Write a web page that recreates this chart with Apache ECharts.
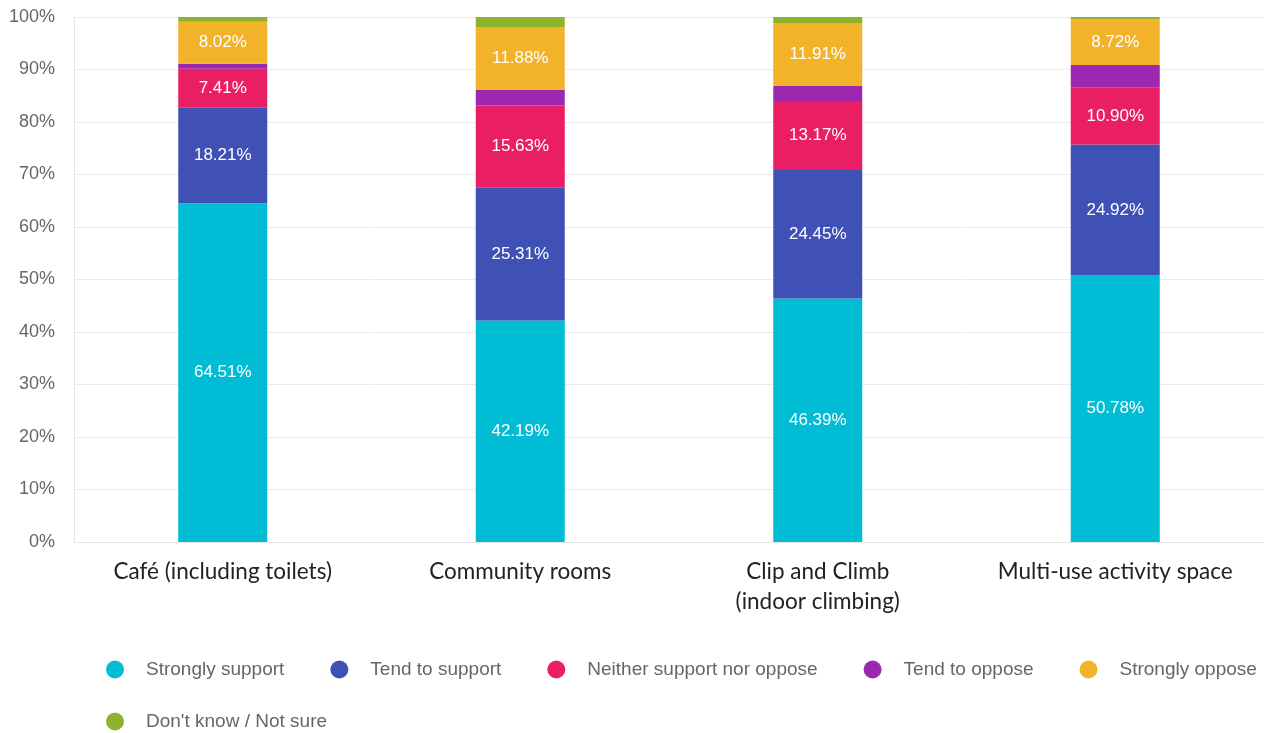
<!DOCTYPE html>
<html>
<head>
<meta charset="utf-8">
<script src="https://cdn.jsdelivr.net/npm/echarts@6/dist/echarts.min.js"></script>
<style>
  html, body { margin: 0; padding: 0; background: #fff; }
  #chart { width: 1277px; height: 733px; }
</style>
</head>
<body>
<div id="chart"></div>
<script>
var categories = ['Café (including toilets)', 'Community rooms', 'Clip and Climb\n(indoor climbing)', 'Multi-use activity space'];
var seriesNames = ['Strongly support', 'Tend to support', 'Neither support nor oppose', 'Tend to oppose', 'Strongly oppose', "Don't know / Not sure"];
var stronglySupport = [64.51, 42.19, 46.39, 50.78];
var tendToSupport = [18.21, 25.31, 24.45, 24.92];
var neither = [7.41, 15.63, 13.17, 10.90];
var tendToOppose = [0.95, 2.97, 2.85, 4.25];
var stronglyOppose = [8.02, 11.88, 11.91, 8.72];
var dontKnow = [0.90, 2.02, 1.23, 0.42];
var yTicks = [0, 10, 20, 30, 40, 50, 60, 70, 80, 90, 100];

var colors = ['#00bcd4', '#3f51b5', '#e91e63', '#9c27b0', '#f2b22a', '#8db32c'];
var allData = [stronglySupport, tendToSupport, neither, tendToOppose, stronglyOppose, dontKnow];
var showLabel = [true, true, true, false, true, false];

var myChart = echarts.init(document.getElementById('chart'));

var series = [];
for (var i = 0; i < seriesNames.length; i++) {
    series.push({
        name: seriesNames[i],
        type: 'bar',
        stack: 'total',
        barWidth: 89,
        data: allData[i],
        itemStyle: { color: colors[i] },
        label: {
            show: showLabel[i],
            position: 'inside',
            color: '#fff',
            fontFamily: 'Liberation Sans, Arial, sans-serif',
            fontSize: 17,
            formatter: function (p) { return p.value.toFixed(2) + '%'; }
        }
    });
}

var legendText = {
    color: '#666',
    fontFamily: 'Liberation Sans, Arial, sans-serif',
    fontSize: 19,
    padding: [0, 0, 0, 17]
};

var option = {
    animation: false,
    grid: { left: 74, right: 13, top: 17, bottom: 191 },
    xAxis: {
        type: 'category',
        data: categories,
        axisLine: { show: true, lineStyle: { color: '#e6e6e6' } },
        axisTick: { show: false },
        axisLabel: {
            interval: 0,
            color: '#222',
            fontFamily: 'Lato, sans-serif',
            fontSize: 22.5,
            lineHeight: 30,
            margin: 15
        }
    },
    yAxis: {
        type: 'value',
        min: yTicks[0],
        max: yTicks[yTicks.length - 1],
        interval: 10,
        axisLine: { show: true, lineStyle: { color: '#e6e6e6' } },
        axisTick: { show: false },
        splitLine: { lineStyle: { color: '#ebebeb' } },
        axisLabel: {
            color: '#666',
            fontFamily: 'Liberation Sans, Arial, sans-serif',
            fontSize: 18,
            margin: 19,
            formatter: '{value}%'
        }
    },
    legend: [{
        data: seriesNames.slice(0, 5),
        left: 106,
        top: 660,
        padding: 0,
        icon: 'circle',
        itemWidth: 18,
        itemHeight: 18,
        itemGap: 46,
        textStyle: legendText
    }, {
        data: seriesNames.slice(5),
        left: 106,
        top: 712,
        padding: 0,
        icon: 'circle',
        itemWidth: 18,
        itemHeight: 18,
        textStyle: legendText
    }],
    series: series
};

myChart.setOption(option);
</script>
</body>
</html>
